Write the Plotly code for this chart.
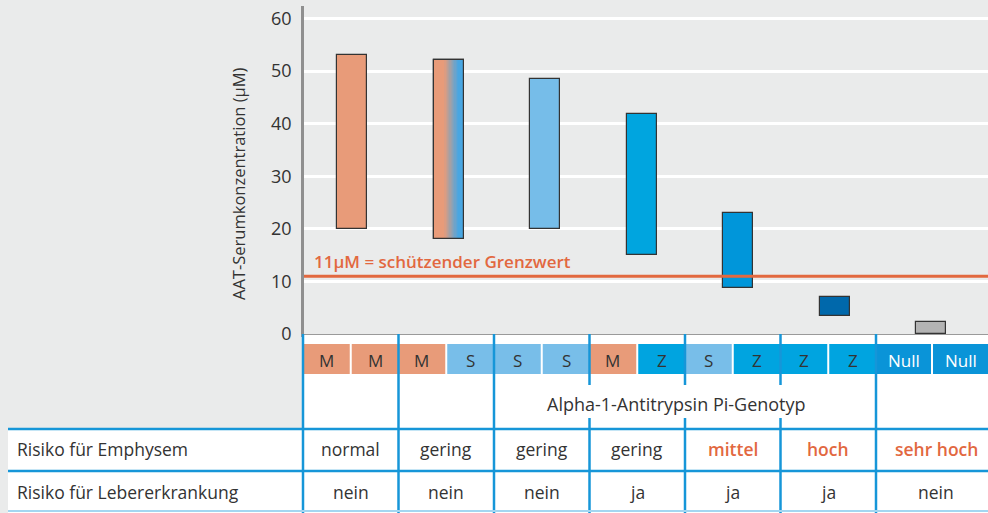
import plotly.graph_objects as go

# ---------------- data ----------------
genotypes = ["MM", "MS", "SS", "MZ", "SZ", "ZZ", "Null/Null"]
allele_1 = ["M", "M", "S", "M", "S", "Z", "Null"]
allele_2 = ["M", "S", "S", "Z", "Z", "Z", "Null"]
aat_low = [20, 18, 20, 15, 8.7, 3.5, 0]
aat_high = [53, 52, 48.5, 41.8, 23, 7, 2.3]
threshold = 11
threshold_label = "11µM = schützender Grenzwert"
y_ticks = [0, 10, 20, 30, 40, 50, 60]
y_title = "AAT-Serumkonzentration (µM)"
header_label = "Alpha-1-Antitrypsin Pi-Genotyp"
row_labels = ["Risiko für Emphysem", "Risiko für Lebererkrankung"]
risk_emphysema = ["normal", "gering", "gering", "gering", "mittel", "hoch", "sehr hoch"]
risk_liver = ["nein", "nein", "nein", "ja", "ja", "ja", "nein"]
highlight_risks = ["mittel", "hoch", "sehr hoch"]

# ---------------- style ----------------
W, H = 988, 513
ML, MR, MT, MB = 304, 0, 6, 179
PW, PH = W - ML - MR, H - MT - MB
BG = "#eaebeb"
BLUE_LINE = "#1696d8"
TXT = "#333333"
RED = "#e2683f"
FONT = "Open Sans"
allele_colors = {"M": "#e89b79", "S": "#78bee9", "Z": "#00a4e0", "Null": "#0a94d8"}
bar_colors = ["#e89b79", "#e89b79", "#76bde9", "#00a5df", "#0096da", "#0068ab", "#b3b3b3"]
grad_from = (232, 155, 121)
grad_to = (72, 166, 226)


def X(px):
    return (px - ML) / PW


def Y(py):
    return (H - MB - py) / PH


x_idx = list(range(len(genotypes)))
bar_w = 0.311
spans = [h - l for l, h in zip(aat_low, aat_high)]

fig = go.Figure()
fig.add_trace(go.Bar(
    x=x_idx, y=spans, base=aat_low, width=bar_w,
    marker=dict(color=bar_colors, line=dict(color="#333333", width=1.2)),
    hoverinfo="skip", showlegend=False,
))

# gradient (M/S heterozygote) bar built from slices
g = genotypes.index("MS")
n_sl = 24
for i in range(n_sl):
    t = (i + 0.5) / n_sl
    f = min(max((t - 0.36) / (0.84 - 0.36), 0), 1)
    c = tuple(round(a + (b - a) * f) for a, b in zip(grad_from, grad_to))
    fig.add_trace(go.Bar(
        x=[x_idx[g]], y=[spans[g]], base=[aat_low[g]],
        width=bar_w / n_sl * 1.05, offset=-bar_w / 2 + i * bar_w / n_sl,
        marker=dict(color="rgb(%d,%d,%d)" % c, line=dict(width=0)),
        hoverinfo="skip", showlegend=False,
    ))
fig.add_trace(go.Bar(
    x=[x_idx[g]], y=[spans[g]], base=[aat_low[g]], width=bar_w,
    marker=dict(color="rgba(0,0,0,0)", line=dict(color="#333333", width=1.2)),
    hoverinfo="skip", showlegend=False,
))

shapes = []
annotations = []

# threshold line
shapes.append(dict(type="line", xref="paper", yref="y", x0=0, x1=1, y0=threshold, y1=threshold,
                   line=dict(color=RED, width=3), layer="above"))
annotations.append(dict(xref="paper", yref="paper", x=X(312), y=Y(261), xanchor="left", yanchor="middle",
                        text=threshold_label, showarrow=False,
                        font=dict(family=FONT, size=17, color=RED, weight=600)))

# y-axis title
annotations.append(dict(xref="paper", yref="paper", x=X(238), y=Y(184), xanchor="center", yanchor="middle",
                        text=y_title, textangle=-90, showarrow=False,
                        font=dict(family=FONT, size=16.5, color=TXT)))

# white table backgrounds
shapes.append(dict(type="rect", xref="paper", yref="paper", x0=X(303), x1=X(990), y0=Y(335), y1=Y(429),
                   fillcolor="white", line=dict(width=0), layer="above"))
shapes.append(dict(type="rect", xref="paper", yref="paper", x0=X(8), x1=X(990), y0=Y(429), y1=Y(514),
                   fillcolor="white", line=dict(width=0), layer="above"))

# column geometry of the table (pixels)
col_edges = [303 + 95.5 * k for k in range(7)] + [988]
col_mid = [(col_edges[k] + col_edges[k + 1]) / 2 for k in range(7)]

# genotype cells
for k in range(7):
    a, b = col_edges[k], col_edges[k + 1]
    m = col_mid[k]
    halves = [(a, m - 1, allele_1[k]), (m + 1, b, allele_2[k])]
    for x0, x1, al in halves:
        shapes.append(dict(type="rect", xref="paper", yref="paper", x0=X(x0), x1=X(x1), y0=Y(374), y1=Y(344),
                           fillcolor=allele_colors[al], line=dict(width=0), layer="above"))
        annotations.append(dict(xref="paper", yref="paper", x=X((x0 + x1) / 2), y=Y(360),
                                xanchor="center", yanchor="middle", text=al, showarrow=False,
                                font=dict(family=FONT, size=17, color="white" if al == "Null" else TXT)))

annotations.append(dict(xref="paper", yref="paper", x=X(676), y=Y(404),
                        xanchor="center", yanchor="middle", text=header_label, showarrow=False,
                        font=dict(family=FONT, size=18, color=TXT)))

# vertical dividers
for k in range(7):
    xe = col_edges[k]
    if k in (3, 4, 5):
        segs = [(334, 385), (418, 513)]
    else:
        segs = [(334, 513)]
    for y0, y1 in segs:
        shapes.append(dict(type="line", xref="paper", yref="paper", x0=X(xe), x1=X(xe), y0=Y(y0), y1=Y(y1),
                           line=dict(color=BLUE_LINE, width=2.5), layer="above"))

# horizontal row lines
for yy, col, wd in [(429, BLUE_LINE, 2.5), (471, BLUE_LINE, 2.5), (511, "#a3d6f1", 2)]:
    shapes.append(dict(type="line", xref="paper", yref="paper", x0=X(8), x1=X(990), y0=Y(yy), y1=Y(yy),
                       line=dict(color=col, width=wd), layer="above"))

# risk rows
for r, (lab, vals, yc) in enumerate([(row_labels[0], risk_emphysema, 449), (row_labels[1], risk_liver, 492)]):
    annotations.append(dict(xref="paper", yref="paper", x=X(15), y=Y(yc), xanchor="left", yanchor="middle",
                            text=lab, showarrow=False, font=dict(family=FONT, size=17.5, color=TXT)))
    for k, v in enumerate(vals):
        red = r == 0 and v in highlight_risks
        xc = col_mid[k] if k < 6 else 936
        annotations.append(dict(xref="paper", yref="paper", x=X(xc), y=Y(yc), xanchor="center",
                                yanchor="middle", text=v, showarrow=False,
                                font=dict(family=FONT, size=17.5, color=RED if red else TXT,
                                          weight=600 if red else 400)))

fig.update_layout(
    width=W, height=H, margin=dict(l=ML, r=MR, t=MT, b=MB, pad=0),
    paper_bgcolor=BG, plot_bgcolor=BG, barmode="overlay", bargap=0,
    showlegend=False, shapes=shapes, annotations=annotations,
    xaxis=dict(range=[-0.5, 6.59], showgrid=False, zeroline=False, showticklabels=False,
               showline=True, linecolor="#9a9a9a", linewidth=2.5, fixedrange=True),
    yaxis=dict(range=[0, 62.36], tickvals=y_ticks, showgrid=True, gridcolor="white", gridwidth=3,
               zeroline=False, showline=True, linecolor="#8f8f8f", linewidth=2.5,
               ticks="", ticklabelstandoff=6,
               tickfont=dict(family=FONT, size=18, color=TXT)),
)

fig.write_html("out.html", config={"displayModeBar": False},
               post_script="document.body.style.margin='0';document.body.style.overflow='hidden';")
